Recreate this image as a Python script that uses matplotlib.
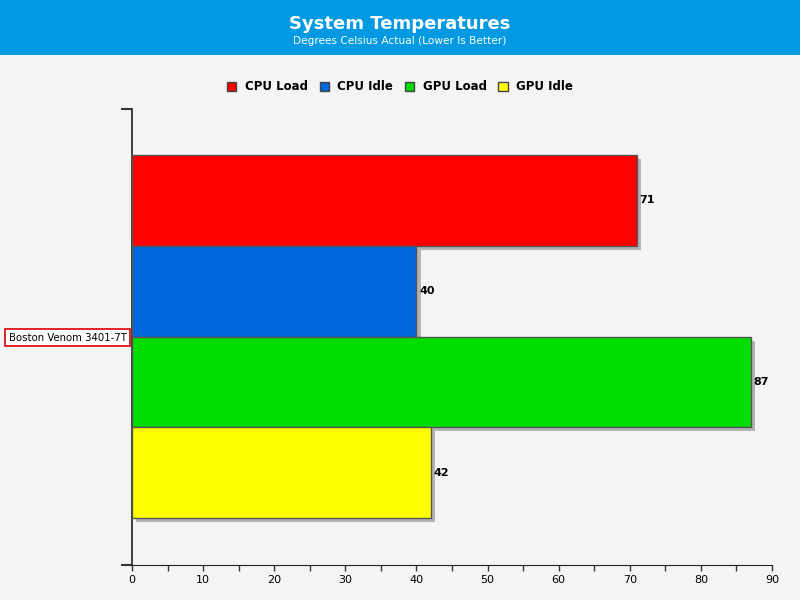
import matplotlib
matplotlib.use("Agg")
import matplotlib.pyplot as plt
import matplotlib.patheffects as pe
from matplotlib.patches import Patch, Rectangle

# data
systems = ["Boston Venom 3401-7T"]
series = ["CPU Load", "CPU Idle", "GPU Load", "GPU Idle"]
values = [71, 40, 87, 42]
colors = ["#FF0000", "#0066DD", "#00DD00", "#FFFF00"]
x_ticks = [0, 10, 20, 30, 40, 50, 60, 70, 80, 90]

bg = "#F4F4F4"
fig = plt.figure(figsize=(8, 6), dpi=100, facecolor=bg)

# header band
fig.patches.append(Rectangle((0, 1 - 55 / 600), 1, 55 / 600, transform=fig.transFigure,
                             facecolor="#0099E2", edgecolor="none", zorder=0))
fig.text(0.5, 1 - 24 / 600, "System Temperatures", ha="center", va="center",
         color="white", fontsize=13, fontweight="bold")
fig.text(0.5, 1 - 41 / 600, "Degrees Celsius Actual (Lower Is Better)", ha="center",
         va="center", color="white", fontsize=7.6)

ax = fig.add_axes([132 / 800, 1 - 565 / 600, 640 / 800, 456 / 600])
ax.set_facecolor(bg)

offsets = [1.5, 0.5, -0.5, -1.5]
shadow = [pe.SimplePatchShadow(offset=(3, -3), shadow_rgbFace="#999999", alpha=0.7), pe.Normal()]
for name, val, col, off in zip(series, values, colors, offsets):
    b = ax.barh(off, val, height=1.0, color=col, edgecolor="#555555", linewidth=1, zorder=3)
    for p in b.patches:
        p.set_path_effects(shadow)
    ax.text(val + 0.4, off, str(val), va="center", ha="left", fontsize=8,
            fontweight="bold", color="black", zorder=4)

ax.set_xlim(0, 90)
ax.set_ylim(-2.518, 2.507)
ax.set_xticks(x_ticks)
ax.set_xticks([5 + 10 * i for i in range(9)], minor=True)
ax.tick_params(axis="x", which="both", direction="out", length=4, width=1,
               labelsize=8, pad=3, color="#333333")

ax.set_yticks([0])
ax.set_yticklabels(systems, fontsize=7.3)
ax.set_yticks([-2.518, 2.507], minor=True)
ax.tick_params(axis="y", which="major", length=0, pad=4)
ax.tick_params(axis="y", which="minor", length=8, width=1.5, color="#333333")
for lbl in ax.get_yticklabels():
    lbl.set_bbox(dict(facecolor="white", edgecolor="#DD0000", linewidth=1.2,
                      boxstyle="square,pad=0.35"))

for s in ["top", "right"]:
    ax.spines[s].set_visible(False)
ax.spines["left"].set_color("#222222")
ax.spines["bottom"].set_color("#222222")
ax.spines["left"].set_linewidth(1.2)

handles = [Patch(facecolor=c, edgecolor="#444444", label=s) for s, c in zip(series, colors)]
leg = fig.legend(handles=handles, loc="center", bbox_to_anchor=(0.5, 1 - 87 / 600), ncol=4,
                 frameon=False, prop={"weight": "bold", "size": 8.5}, handlelength=0.8,
                 handleheight=0.8, handletextpad=0.7, columnspacing=1.0)

fig.savefig("out.png", dpi=100, facecolor=bg)
